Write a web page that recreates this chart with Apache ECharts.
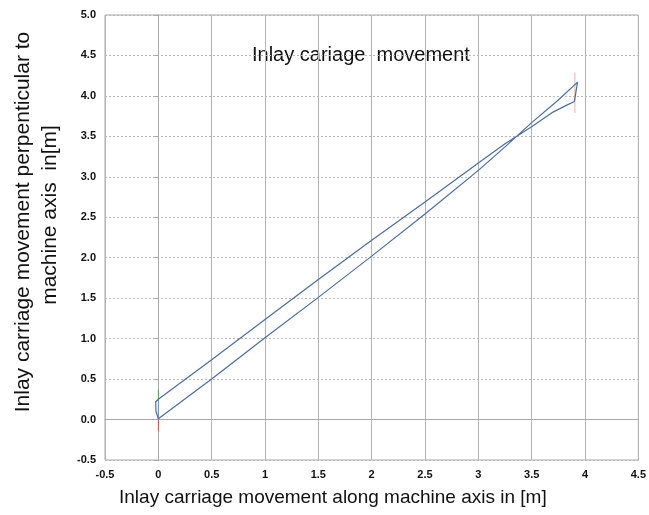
<!DOCTYPE html>
<html>
<head>
<meta charset="utf-8">
<script src="https://cdn.jsdelivr.net/npm/echarts@6/dist/echarts.min.js"></script>
<style>
  html, body { margin: 0; padding: 0; background: #fff; }
  #chart { width: 649px; height: 515px; }
</style>
</head>
<body>
<div id="chart"></div>
<script>
// Outbound path: starts at the origin and ends at the upper right corner
const outX = [0, 0.5, 1, 1.5, 2, 2.5, 3, 3.25, 3.5, 3.75, 3.93];
const outY = [0.01, 0.50, 1.01, 1.51, 2.02, 2.54, 3.08, 3.37, 3.67, 3.95, 4.17];
// Turn at the far end
const turnX = [3.915];
const turnY = [4.05];
// Return path: from the far end back to the start (listed left to right)
const backX = [0, 0.5, 1, 1.5, 2, 2.5, 3, 3.25, 3.5, 3.7, 3.82, 3.90];
const backY = [0.25, 0.74, 1.236, 1.73, 2.216, 2.69, 3.17, 3.41, 3.62, 3.80, 3.88, 3.93];
// Closing curve near the origin
const closeX = [-0.025, -0.022];
const closeY = [0.22, 0.10];
// Short vertical markers at both ends
const startMarkTopY = [0.25, 0.37];
const startMarkMidY = [0.0, 0.25];
const startMarkLowY = [-0.14, 0.0];
const endMarkX = 3.905;
const endMarkY = [3.79, 4.29];

const xTicks = { min: -0.5, max: 4.5, step: 0.5 };
const yTicks = { min: -0.5, max: 5.0, step: 0.5 };

const path = [];
outX.forEach((x, i) => path.push([x, outY[i]]));
turnX.forEach((x, i) => path.push([x, turnY[i]]));
for (let i = backX.length - 1; i >= 0; i--) path.push([backX[i], backY[i]]);
closeX.forEach((x, i) => path.push([x, closeY[i]]));
path.push([outX[0], outY[0]]);

const chart = echarts.init(document.getElementById('chart'), null, { renderer: 'canvas' });

const fontFamily = '"Liberation Sans", Arial, sans-serif';

function segment(xs, ys, color) {
  return {
    type: 'line',
    data: xs.map((x, i) => [x, ys[i]]),
    showSymbol: false,
    silent: true,
    lineStyle: { color: color, width: 1 },
    z: 1
  };
}

chart.setOption({
  animation: false,
  backgroundColor: '#ffffff',
  grid: {
    left: 105, right: 10, top: 15, bottom: 55,
    show: true, borderColor: '#a8a8a8', borderWidth: 1
  },
  xAxis: {
    type: 'value',
    min: xTicks.min, max: xTicks.max, interval: xTicks.step,
    axisLine: { show: true, lineStyle: { color: '#a8a8a8' } },
    axisTick: { show: false },
    axisLabel: {
      color: '#111', fontWeight: 'bold', fontSize: 11, fontFamily: fontFamily, margin: 9
    },
    splitLine: { show: true, lineStyle: { color: '#b4b4b4', width: 1, type: 'solid' } }
  },
  yAxis: {
    type: 'value',
    min: yTicks.min, max: yTicks.max, interval: yTicks.step,
    axisLine: { show: true, lineStyle: { color: '#a8a8a8' } },
    axisTick: { show: true, length: 4, lineStyle: { color: '#a8a8a8' } },
    axisLabel: {
      color: '#111', fontWeight: 'bold', fontSize: 11, fontFamily: fontFamily, margin: 9,
      formatter: v => v.toFixed(1)
    },
    splitLine: { show: true, lineStyle: { color: '#b8b8b8', width: 1, type: [2, 2] } }
  },
  graphic: [
    {
      type: 'text', left: 252, top: 45,
      style: { text: 'Inlay cariage  movement', fill: '#111', font: '20px ' + fontFamily }
    },
    {
      type: 'text', left: 119, top: 488,
      style: { text: 'Inlay carriage movement along machine axis in [m]', fill: '#111', font: '19px ' + fontFamily }
    },
    {
      type: 'text', x: 23, y: 222, rotation: Math.PI / 2,
      style: {
        text: 'Inlay carriage movement perpenticular to', fill: '#111',
        font: '21px ' + fontFamily, textAlign: 'center', textVerticalAlign: 'middle'
      }
    },
    {
      type: 'text', x: 50, y: 215, rotation: Math.PI / 2,
      style: {
        text: 'machine axis  in[m]', fill: '#111',
        font: '21px ' + fontFamily, textAlign: 'center', textVerticalAlign: 'middle'
      }
    }
  ],
  series: [
    segment([0, 0], startMarkTopY, '#5aa05a'),
    segment([0, 0], startMarkMidY, '#6a8fc0'),
    segment([0, 0], startMarkLowY, '#d05a4a'),
    segment([endMarkX, endMarkX], endMarkY, '#e8b49a'),
    {
      type: 'line',
      data: path,
      showSymbol: false,
      silent: true,
      lineStyle: { color: '#4d6d9f', width: 1.2 },
      z: 3
    }
  ]
});
</script>
</body>
</html>
